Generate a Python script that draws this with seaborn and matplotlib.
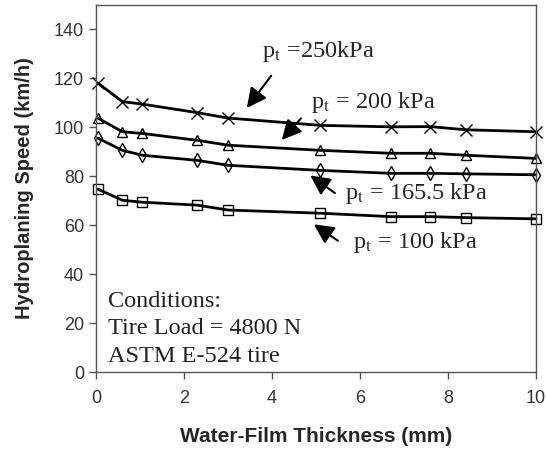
import matplotlib
matplotlib.use("Agg")
import matplotlib.pyplot as plt
import seaborn as sns
import numpy as np

thickness = [0.05, 0.6, 1.05, 2.3, 3.0, 5.1, 6.7, 7.6, 8.4, 10.0]
speed_250 = [118, 110.5, 109.5, 106, 103.8, 100.8, 100.2, 100.3, 99, 98.2]
speed_200 = [103.7, 98.2, 97.5, 94.7, 92.7, 90.6, 89.4, 89.4, 88.6, 87.3]
speed_165 = [95.5, 90.6, 88.6, 86.5, 84.5, 82.4, 81.2, 81.2, 81.0, 80.6]
speed_100 = [74.7, 70.2, 69.4, 68.2, 66.2, 64.9, 63.5, 63.5, 63.1, 62.6]

sns.set_theme(style="white")
plt.rcParams['font.family'] = ['Liberation Sans', 'DejaVu Sans']

fig = plt.figure(figsize=(5.46, 4.54), dpi=100)
ax = fig.add_axes([0.1758, 0.1806, 0.9817 - 0.1758, 0.989 - 0.1806])

series = [(speed_250, 'x', 9), (speed_200, '^', 7.5), (speed_165, 'd', 7.5), (speed_100, 's', 7)]
for ys, m, ms in series:
    sns.lineplot(x=thickness, y=ys, ax=ax, color='black', lw=2.0,
                 marker=m, ms=ms, mfc='none', mec='black', mew=1.0, clip_on=False)

ax.set_xlim(0, 10)
ax.set_ylim(0, 150)
ax.set_xticks([0, 2, 4, 6, 8, 10])
ax.set_yticks(np.arange(0, 141, 20))
ax.tick_params(axis='both', direction='out', length=5, width=1, colors='#555555',
               labelcolor='#333333', labelsize=13, bottom=True, left=True)
ax.tick_params(axis='x', pad=8)
for s in ax.spines.values():
    s.set_color('#555555')
    s.set_linewidth(1.0)

ax.set_xlabel('Water-Film Thickness (mm)', fontsize=15, fontweight='bold', labelpad=14)
ax.set_ylabel('Hydroplaning Speed (km/h)', fontsize=14.5, fontweight='bold', labelpad=14)

serif = ['Liberation Serif', 'DejaVu Serif']
ap = dict(arrowstyle='-|>,head_length=1.0,head_width=0.5', color='black', lw=1.5)
ann = [
    (r'p$_\mathrm{t}$ =250kPa', (3.77, 131), (4.02, 122), (3.39, 107)),
    (r'p$_\mathrm{t}$ = 200 kPa', (4.88, 110), (4.7, 104.5), (4.18, 94)),
    (r'p$_\mathrm{t}$ = 165.5 kPa', (5.66, 73), (5.48, 72.5), (4.82, 81)),
    (r'p$_\mathrm{t}$ = 100 kPa', (5.84, 53), (5.55, 53), (4.9, 61)),
]
for txt, tpos, tail, tip in ann:
    ax.text(tpos[0], tpos[1], txt, fontsize=17.5, family=serif, va='center', ha='left',
            math_fontfamily='stix')
    ax.annotate('', xy=tip, xytext=tail, arrowprops=ap)

for i, line in enumerate(['Conditions:', 'Tire Load = 4800 N', 'ASTM E-524 tire']):
    ax.text(0.27, 29.0 - i * 11.4, line, fontsize=17.5, family=serif, va='center', ha='left',
            color='#222222')

fig.savefig('out.png', dpi=100)
